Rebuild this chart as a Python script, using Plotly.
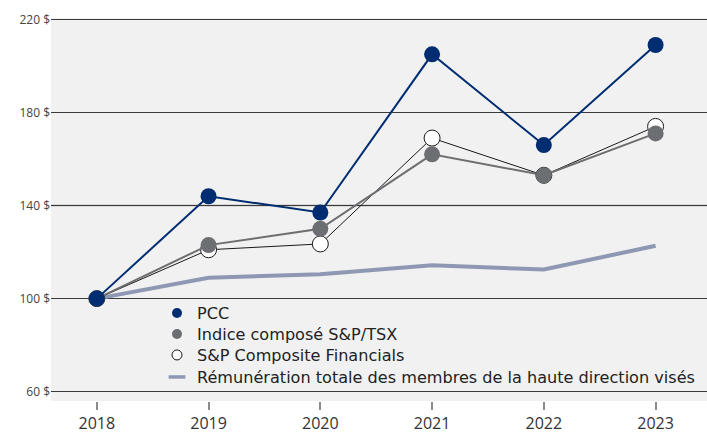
import plotly.graph_objects as go

years = [2018, 2019, 2020, 2021, 2022, 2023]
pcc = [100, 144, 137, 205, 166, 209]
tsx = [100, 123, 130, 162, 153, 171]
financials = [100, 121, 123.5, 169, 153, 174]
neo_comp = [100, 109, 110.5, 114.3, 112.5, 122.7]

y_ticks = [60, 100, 140, 180, 220]
y_ticktext = ["60 $", "100 $", "140 $", "180 $", "220 $"]

names = ["PCC", "Indice composé S&P/TSX", "S&P Composite Financials",
         "Rémunération totale des membres de la haute direction visés"]

NAVY = "#002d72"
GRAY = "#6d6e71"
NEO = "#8f98b3"

fig = go.Figure()
# data traces (no legend)
fig.add_trace(go.Scatter(x=years, y=neo_comp, mode="lines",
                         line=dict(color=NEO, width=4), showlegend=False))
fig.add_trace(go.Scatter(x=years, y=financials, mode="lines+markers",
                         line=dict(color="#1a1a1a", width=1),
                         marker=dict(size=16, color="white", line=dict(color="#1a1a1a", width=1)),
                         showlegend=False))
fig.add_trace(go.Scatter(x=years, y=tsx, mode="lines+markers",
                         line=dict(color=GRAY, width=2),
                         marker=dict(size=16, color=GRAY), showlegend=False))
fig.add_trace(go.Scatter(x=years, y=pcc, mode="lines+markers",
                         line=dict(color=NAVY, width=2),
                         marker=dict(size=16, color=NAVY), showlegend=False))

# legend entries (one legend per row for exact spacing)
fig.add_trace(go.Scatter(x=[None], y=[None], mode="markers", name=names[0], legend="legend",
                         marker=dict(size=10, color=NAVY)))
fig.add_trace(go.Scatter(x=[None], y=[None], mode="markers", name=names[1], legend="legend2",
                         marker=dict(size=10, color=GRAY)))
fig.add_trace(go.Scatter(x=[None], y=[None], mode="markers", name=names[2], legend="legend3",
                         marker=dict(size=10, color="white", line=dict(color="#1a1a1a", width=1))))
fig.add_trace(go.Scatter(x=[None], y=[None], mode="markers", name=names[3], legend="legend4",
                         marker=dict(size=12, symbol="line-ew", color=NEO,
                                     line=dict(color=NEO, width=3.5))))

fig.add_shape(type="line", xref="paper", x0=0, x1=1, yref="y", y0=140, y1=140,
              line=dict(color="#8a8a8a", width=1.5), layer="below")

leg_common = dict(x=0.1616, xanchor="left", yanchor="middle",
                  bgcolor="rgba(0,0,0,0)",
                  font=dict(family="DejaVu Sans", size=16.1, color="#222222"),
                  itemsizing="trace")
row_y = [0.2298, 0.1749, 0.1201, 0.0627]

fig.update_layout(
    width=707, height=433,
    margin=dict(l=51, r=0, t=18, b=32),
    paper_bgcolor="white",
    plot_bgcolor="#f1f1f1",
    font=dict(family="Open Sans", color="#333333"),
    legend=dict(y=row_y[0], **leg_common),
    legend2=dict(y=row_y[1], **leg_common),
    legend3=dict(y=row_y[2], **leg_common),
    legend4=dict(y=row_y[3], **leg_common),
    xaxis=dict(range=[2017.59, 2023.46], tickvals=years, ticktext=[str(y) for y in years],
               showgrid=False, zeroline=False, showline=False,
               ticks="outside", ticklen=8, tickwidth=1.5, tickcolor="#8a8a8a",
               tickfont=dict(size=16, color="#333333")),
    yaxis=dict(range=[56, 220.6], tickvals=y_ticks, ticktext=y_ticktext,
               showgrid=True, gridcolor="#3a3a3a", gridwidth=1.2,
               zeroline=False, showline=False, ticks="", ticklen=0,
               tickfont=dict(size=12, color="#444444")),
)

fig.write_html("out.html", config={"displayModeBar": False},
               post_script="document.body.style.margin='0';")
